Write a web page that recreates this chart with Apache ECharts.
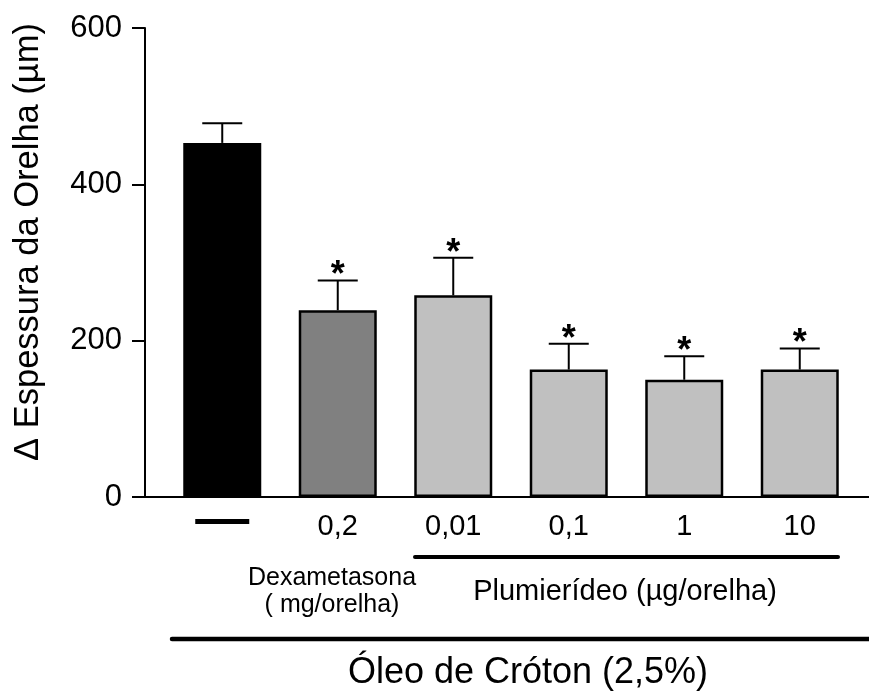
<!DOCTYPE html>
<html>
<head>
<meta charset="utf-8">
<script src="https://cdn.jsdelivr.net/npm/echarts@6/dist/echarts.min.js"></script>
<style>
html,body{margin:0;padding:0;background:#fff;}
#c{width:869px;height:691px;}
</style>
</head>
<body>
<div id="c"></div>
<script>
const categories = ['—', '0,2', '0,01', '0,1', '1', '10'];
const means = [453, 239, 258, 163, 150, 163];
const sems = [25, 38, 48, 33, 30, 27];
const signif = [false, true, true, true, true, true];
const barColors = ['#000000', '#808080', '#c0c0c0', '#c0c0c0', '#c0c0c0', '#c0c0c0'];
const yMin = 0, yMax = 600, yStep = 200;
const yTitle = 'Δ Espessura da Orelha (µm)';
const dexaText = 'Dexametasona\n( mg/orelha)';
const plumText = 'Plumierídeo (µg/orelha)';
const oleoText = 'Óleo de Cróton (2,5%)';

const FONT = '"Liberation Sans", Arial, Helvetica, sans-serif';
const chart = echarts.init(document.getElementById('c'), null, {renderer: 'canvas'});

const option = {
  animation: false,
  backgroundColor: '#ffffff',
  grid: {left: 164.5, right: 11.5, top: 28, bottom: 194, containLabel: false},
  xAxis: {
    type: 'category',
    data: categories,
    axisLine: {show: false},
    axisTick: {show: false},
    axisLabel: {
      interval: 0,
      margin: 15,
      color: '#000',
      fontFamily: FONT,
      fontSize: 29,
      lineHeight: 29,
      verticalAlign: 'top',
      formatter: function (v) { return v === '—' ? '{gap|}\n{dash|}' : v; },
      rich: {
        gap: {height: 7, lineHeight: 7, width: 1},
        dash: {width: 54, height: 5, lineHeight: 5, backgroundColor: '#000'}
      }
    }
  },
  yAxis: {
    type: 'value',
    min: yMin, max: yMax, interval: yStep,
    offset: 19.5,
    splitLine: {show: false},
    axisLine: {show: true, lineStyle: {color: '#000', width: 2}},
    axisTick: {show: true, inside: false, length: 13, lineStyle: {color: '#000', width: 2}},
    axisLabel: {margin: 23, color: '#000', fontFamily: FONT, fontSize: 31}
  },
  series: [
    {
      type: 'bar',
      barWidth: 78,
      data: means.map((v, i) => ({
        value: v,
        itemStyle: {color: barColors[i], borderColor: '#000', borderWidth: i === 0 ? 0 : 2.5}
      })),
      z: 2
    },
    {
      type: 'custom',
      z: 3,
      data: categories.map((c, i) => [i, means[i], sems[i], signif[i] ? 1 : 0]),
      renderItem: function (params, api) {
        const i = api.value(0), m = api.value(1), s = api.value(2), sig = api.value(3);
        const base = api.coord([i, m]);
        const top = api.coord([i, m + s]);
        const children = [
          {type: 'line', shape: {x1: base[0], y1: base[1], x2: top[0], y2: top[1]}, style: {stroke: '#000', lineWidth: 2}},
          {type: 'line', shape: {x1: top[0] - 20, y1: top[1], x2: top[0] + 20, y2: top[1]}, style: {stroke: '#000', lineWidth: 2}}
        ];
        if (sig) {
          children.push({
            type: 'text',
            style: {text: '*', x: top[0], y: top[1] - 4, align: 'center', verticalAlign: 'middle',
                    fontSize: 36, fontWeight: 'bold', fontFamily: FONT, fill: '#000'}
          });
        }
        return {type: 'group', children: children};
      }
    }
  ],
  graphic: [
    {type: 'line', shape: {x1: 145, y1: 497, x2: 869, y2: 497}, style: {stroke: '#000', lineWidth: 2}, z: 5},
    {type: 'line', shape: {x1: 415, y1: 557, x2: 838, y2: 557}, style: {stroke: '#000', lineWidth: 4, lineCap: 'round'}},
    {type: 'line', shape: {x1: 172, y1: 639, x2: 869, y2: 639}, style: {stroke: '#000', lineWidth: 4.5, lineCap: 'round'}},
    {type: 'text', x: 332, y: 592, style: {text: dexaText, align: 'center', verticalAlign: 'middle', fontSize: 25, lineHeight: 27, fontFamily: FONT, fill: '#000'}},
    {type: 'text', x: 625, y: 592, style: {text: plumText, align: 'center', verticalAlign: 'middle', fontSize: 29, fontFamily: FONT, fill: '#000'}},
    {type: 'text', x: 528, y: 673, style: {text: oleoText, align: 'center', verticalAlign: 'middle', fontSize: 36, fontFamily: FONT, fill: '#000'}},
    {type: 'text', x: 28, y: 242, rotation: Math.PI / 2, style: {text: yTitle, align: 'center', verticalAlign: 'middle', fontSize: 34.5, fontFamily: FONT, fill: '#000'}}
  ]
};
chart.setOption(option);
</script>
</body>
</html>
